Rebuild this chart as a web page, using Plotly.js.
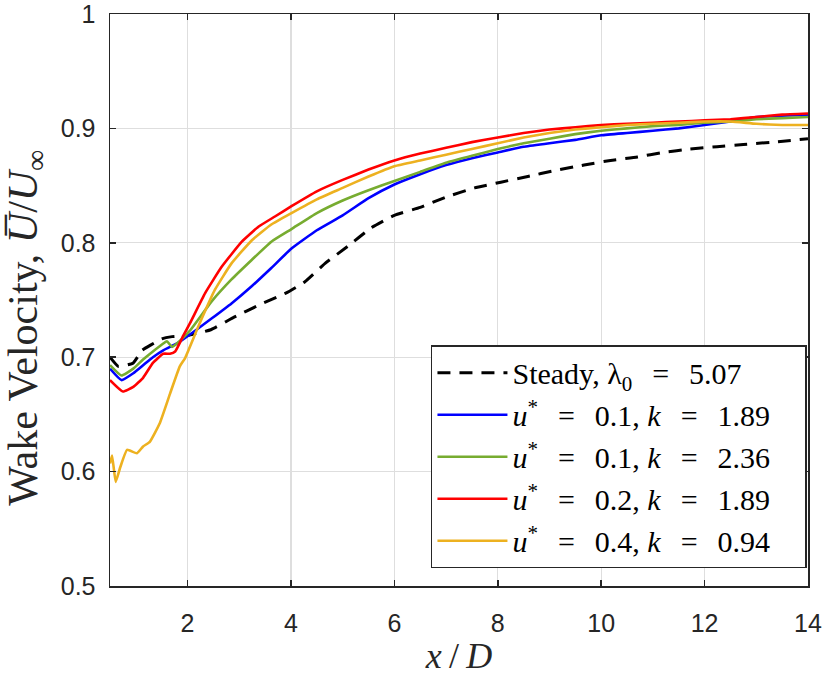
<!DOCTYPE html>
<html>
<head>
<meta charset="utf-8">
<script src="https://cdn.plot.ly/plotly-3.0.1.min.js"></script>
<style>html,body{margin:0;padding:0;background:#fff;}#chart{width:830px;height:682px;}</style>
</head>
<body>
<div id="chart"></div>
<script>
// Steady, lambda0 = 5.07
const steadyX = [0.5, 0.66, 0.95, 1.12, 1.3, 1.5, 1.7, 2.0, 2.45, 2.9, 3.4, 3.9, 4.27, 4.66, 5.1, 5.55, 6.0, 6.5, 7.0, 7.55, 8.06, 8.58, 9.09, 9.67, 10.18, 10.7, 11.2, 11.72, 12.24, 12.75, 13.33, 14.0];
const steadyY = [0.700, 0.692, 0.695, 0.706, 0.711, 0.716, 0.718, 0.719, 0.724, 0.735, 0.746, 0.756, 0.766, 0.782, 0.797, 0.813, 0.824, 0.831, 0.840, 0.848, 0.853, 0.858, 0.863, 0.868, 0.872, 0.875, 0.879, 0.882, 0.884, 0.886, 0.888, 0.891];

// u* = 0.1, k = 1.89
const blueX = [0.5, 0.72, 0.95, 1.14, 1.33, 1.53, 1.66, 1.8, 2.08, 2.47, 2.85, 3.24, 3.62, 4.01, 4.5, 5.0, 5.5, 6.0, 6.5, 7.0, 7.5, 8.0, 8.5, 9.0, 9.5, 10.0, 10.5, 11.0, 11.5, 12.0, 12.5, 13.0, 13.5, 14.0];
const blueY = [0.690, 0.680, 0.686, 0.693, 0.700, 0.706, 0.709, 0.712, 0.721, 0.734, 0.747, 0.762, 0.778, 0.795, 0.811, 0.824, 0.839, 0.851, 0.860, 0.868, 0.874, 0.879, 0.884, 0.887, 0.890, 0.894, 0.896, 0.898, 0.900, 0.903, 0.906, 0.910, 0.911, 0.912];

// u* = 0.1, k = 2.36
const greenX = [0.5, 0.72, 0.95, 1.14, 1.33, 1.53, 1.6, 1.7, 1.87, 2.06, 2.47, 2.85, 3.24, 3.62, 4.01, 4.5, 5.0, 5.5, 6.0, 6.5, 7.0, 7.5, 8.0, 8.5, 9.0, 9.5, 10.0, 10.5, 11.0, 11.5, 12.0, 12.5, 13.0, 13.5, 14.0];
const greenY = [0.693, 0.684, 0.690, 0.698, 0.705, 0.712, 0.714, 0.709, 0.715, 0.724, 0.749, 0.768, 0.785, 0.801, 0.812, 0.826, 0.837, 0.846, 0.854, 0.862, 0.870, 0.876, 0.882, 0.887, 0.891, 0.895, 0.898, 0.900, 0.902, 0.903, 0.905, 0.906, 0.908, 0.909, 0.910];

// u* = 0.2, k = 1.89
const redX = [0.5, 0.75, 0.95, 1.14, 1.33, 1.53, 1.66, 1.76, 1.92, 2.05, 2.34, 2.66, 3.05, 3.37, 3.69, 4.01, 4.5, 5.0, 5.5, 6.0, 6.5, 7.0, 7.5, 8.0, 8.5, 9.0, 9.5, 10.0, 10.5, 11.0, 11.5, 12.0, 12.5, 13.0, 13.5, 14.0];
const redY = [0.680, 0.670, 0.674, 0.682, 0.695, 0.703, 0.703, 0.705, 0.719, 0.730, 0.756, 0.779, 0.801, 0.814, 0.823, 0.832, 0.845, 0.855, 0.864, 0.872, 0.878, 0.883, 0.888, 0.892, 0.896, 0.899, 0.901, 0.903, 0.904, 0.905, 0.906, 0.907, 0.908, 0.910, 0.912, 0.913];

// u* = 0.4, k = 0.94
const yellowX = [0.5, 0.54, 0.61, 0.70, 0.83, 1.02, 1.14, 1.27, 1.46, 1.66, 1.85, 1.95, 2.21, 2.53, 2.85, 3.24, 3.62, 4.01, 4.5, 5.0, 5.5, 6.0, 6.5, 7.0, 7.5, 8.0, 8.5, 9.0, 9.5, 10.0, 10.5, 11.0, 11.5, 12.0, 12.5, 13.0, 13.5, 14.0];
const yellowY = [0.607, 0.614, 0.591, 0.604, 0.619, 0.616, 0.622, 0.626, 0.642, 0.668, 0.692, 0.699, 0.727, 0.759, 0.782, 0.802, 0.816, 0.826, 0.838, 0.848, 0.858, 0.867, 0.872, 0.877, 0.882, 0.887, 0.892, 0.896, 0.899, 0.901, 0.903, 0.904, 0.905, 0.906, 0.906, 0.904, 0.903, 0.903];

const EQ = "\u2002\u2006=\u2002\u2006";
const TAIL = "\u2003";
const seriesNames = [
  "Steady, λ<sub>0</sub>" + EQ + "5.07" + TAIL,
  "<i>u</i><sup>*</sup>" + EQ + "0.1, <i>k</i>" + EQ + "1.89" + TAIL,
  "<i>u</i><sup>*</sup>" + EQ + "0.1, <i>k</i>" + EQ + "2.36" + TAIL,
  "<i>u</i><sup>*</sup>" + EQ + "0.2, <i>k</i>" + EQ + "1.89" + TAIL,
  "<i>u</i><sup>*</sup>" + EQ + "0.4, <i>k</i>" + EQ + "0.94" + TAIL
];
const seriesColors = ["#000000", "#0000FF", "#77AC30", "#FF0000", "#EDB120"];

const xTickVals = [2, 4, 6, 8, 10, 12, 14];
const xTickText = ["2", "4", "6", "8", "10", "12", "14"];
const yTickVals = [0.5, 0.6, 0.7, 0.8, 0.9, 1.0];
const yTickText = ["0.5", "0.6", "0.7", "0.8", "0.9", "1"];
const yTitleText = "Wake Velocity, <i>U\u0305</i>/<i>U</i><sub>∞</sub>";

const xs = [steadyX, blueX, greenX, redX, yellowX];
const ys = [steadyY, blueY, greenY, redY, yellowY];

const traces = xs.map((x, i) => ({
  x: x, y: ys[i], type: "scatter", mode: "lines",
  name: seriesNames[i],
  legendgroup: "g" + i,
  line: {color: seriesColors[i], width: i === 0 ? 3 : 2.6, dash: i === 0 ? "13px,9px" : "solid", shape: "spline", smoothing: 0.4}
}));

const axisCommon = {
  showline: true, linecolor: "#262626", linewidth: 1.5, mirror: "ticks",
  ticks: "inside", ticklen: 6, tickwidth: 1.5, tickcolor: "#262626",
  showgrid: true, gridcolor: "#dedede", gridwidth: 1.2, zeroline: false,
  ticklabeloverflow: "allow",
  tickfont: {family: "Liberation Sans, Arial, sans-serif", size: 25, color: "#262626"}
};

const layout = {
  width: 830, height: 682,
  margin: {l: 110, r: 22, t: 14, b: 96},
  paper_bgcolor: "#ffffff", plot_bgcolor: "#ffffff",
  showlegend: true,
  xaxis: Object.assign({}, axisCommon, {
    range: [0.5, 14], tickmode: "array", tickvals: xTickVals, ticktext: xTickText,
    ticklabelstandoff: 14,
    title: {text: "<i>x</i>\u2009/\u2009<i>D</i>", font: {family: "Liberation Serif, serif", size: 36, color: "#262626"}, standoff: 2}
  }),
  yaxis: Object.assign({}, axisCommon, {
    range: [0.5, 1.0], tickmode: "array", tickvals: yTickVals, ticktext: yTickText,
    ticklabelstandoff: 8
  }),
  annotations: [{
    text: yTitleText, xref: "paper", yref: "paper", x: -0.12, y: 0.452,
    xanchor: "center", yanchor: "middle", textangle: -90, showarrow: false,
    font: {family: "Liberation Serif, serif", size: 42, color: "#262626"}
  }],
  legend: {
    x: 0.9985, xanchor: "right", y: 0.031, yanchor: "bottom",
    bgcolor: "#ffffff", bordercolor: "#262626", borderwidth: 1.5,
    font: {family: "Liberation Serif, serif", size: 30, color: "#000000"},
    traceorder: "grouped", tracegroupgap: 0, itemwidth: 70
  }
};

Plotly.newPlot("chart", traces, layout, {displayModeBar: false, staticPlot: true});
</script>
</body>
</html>
